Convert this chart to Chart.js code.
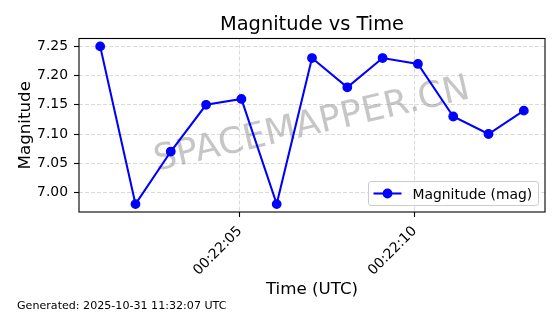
<!DOCTYPE html>
<html><head><meta charset="utf-8">
<script src="https://cdn.jsdelivr.net/npm/chart.js@4.4.1/dist/chart.umd.min.js"></script>
<style>html,body{margin:0;padding:0;background:#fff}canvas{display:block}</style>
</head><body>
<canvas id="c" width="560" height="314"></canvas>
<script>
// ---- data ----
const timeLabels = ['00:22:01.00','00:22:02.01','00:22:03.02','00:22:04.03','00:22:05.04','00:22:06.05','00:22:07.06','00:22:08.07','00:22:09.08','00:22:10.09','00:22:11.10','00:22:12.11','00:22:13.12'];
const magnitudes = [7.25, 6.98, 7.07, 7.15, 7.16, 6.98, 7.23, 7.18, 7.23, 7.22, 7.13, 7.10, 7.14];
const yTickValues = [7.00, 7.05, 7.10, 7.15, 7.20, 7.25];
const xTickLabels = ['00:22:05', '00:22:10'];
const chartTitle = 'Magnitude vs Time';
const xTitle = 'Time (UTC)';
const yTitle = 'Magnitude';
const seriesName = 'Magnitude (mag)';
const footerText = 'Generated: 2025-10-31 11:32:07 UTC';
const watermarkText = 'SPACEMAPPER.CN';

// ---- helpers ----
function toSec(s){ const p = s.split(':'); return (+p[0])*3600 + (+p[1])*60 + parseFloat(p[2]); }
function fmt(v){ const t = Math.round(v); const h = Math.floor(t/3600), m = Math.floor((t%3600)/60), s = t%60;
  return [h,m,s].map(n => String(n).padStart(2,'0')).join(':'); }
const xs = timeLabels.map(toSec);
const points = xs.map((x,i) => ({x: x, y: magnitudes[i]}));
const xTickVals = xTickLabels.map(toSec);
const xmin = Math.min(...xs), xmax = Math.max(...xs), xm = (xmax - xmin) * 0.05;
const ymin = Math.min(...magnitudes), ymax = Math.max(...magnitudes), ym = (ymax - ymin) * 0.05;

const FONT = '"DejaVu Sans", sans-serif';
const BLUE = '#0000ff';

const deco = {
  id: 'deco',
  beforeDatasetsDraw(chart){
    const ctx = chart.ctx, a = chart.chartArea;
    ctx.save();
    ctx.translate((a.left + a.right)/2, (a.top + a.bottom)/2);
    ctx.rotate(-13 * Math.PI / 180);
    ctx.font = '36px ' + FONT;
    ctx.fillStyle = 'rgba(128,128,128,0.45)';
    ctx.textAlign = 'center';
    ctx.textBaseline = 'middle';
    ctx.fillText(watermarkText, 0, 0);
    ctx.restore();
  },
  afterDraw(chart){
    const ctx = chart.ctx, a = chart.chartArea;
    ctx.save();
    // frame
    ctx.strokeStyle = '#000'; ctx.lineWidth = 1.1;
    ctx.strokeRect(a.left, a.top, a.right - a.left, a.bottom - a.top);
    // title
    ctx.fillStyle = '#000';
    ctx.textAlign = 'center'; ctx.textBaseline = 'alphabetic';
    ctx.font = '19.4px ' + FONT;
    ctx.fillText(chartTitle, (a.left + a.right)/2, 29.5);
    ctx.font = '16.7px ' + FONT;
    ctx.fillText(xTitle, (a.left + a.right)/2, 294);
    ctx.save();
    ctx.translate(29.5, (a.top + a.bottom)/2);
    ctx.rotate(-Math.PI/2);
    ctx.fillText(yTitle, 0, 0);
    ctx.restore();
    // footer
    ctx.textAlign = 'left';
    ctx.font = '11.1px ' + FONT;
    ctx.fillText(footerText, 17, 309);
    // legend
    const lx = 368.5, ly = 181.5, lw = 170, lh = 24, r = 2.5;
    ctx.beginPath();
    ctx.moveTo(lx + r, ly); ctx.lineTo(lx + lw - r, ly); ctx.arcTo(lx + lw, ly, lx + lw, ly + r, r);
    ctx.lineTo(lx + lw, ly + lh - r); ctx.arcTo(lx + lw, ly + lh, lx + lw - r, ly + lh, r);
    ctx.lineTo(lx + r, ly + lh); ctx.arcTo(lx, ly + lh, lx, ly + lh - r, r);
    ctx.lineTo(lx, ly + r); ctx.arcTo(lx, ly, lx + r, ly, r); ctx.closePath();
    ctx.fillStyle = 'rgba(255,255,255,0.8)'; ctx.fill();
    ctx.strokeStyle = '#cccccc'; ctx.lineWidth = 1; ctx.stroke();
    const ds = chart.data.datasets[0];
    ctx.strokeStyle = ds.borderColor; ctx.lineWidth = ds.borderWidth;
    ctx.beginPath(); ctx.moveTo(373.5, 193.5); ctx.lineTo(401.5, 193.5); ctx.stroke();
    ctx.beginPath(); ctx.arc(387.5, 193.5, ds.pointRadius, 0, Math.PI*2);
    ctx.fillStyle = ds.pointBackgroundColor; ctx.fill();
    ctx.lineWidth = ds.pointBorderWidth; ctx.strokeStyle = ds.pointBorderColor; ctx.stroke();
    ctx.fillStyle = '#000'; ctx.font = '13.9px ' + FONT; ctx.textAlign = 'left';
    ctx.fillText(ds.label, 412.5, 198.5);
    ctx.restore();
  }
};

new Chart(document.getElementById('c'), {
  type: 'line',
  data: { datasets: [{
    label: seriesName,
    data: points,
    borderColor: BLUE, backgroundColor: BLUE,
    borderWidth: 2.08,
    pointRadius: 4.2, pointBorderWidth: 1.4,
    pointBackgroundColor: BLUE, pointBorderColor: BLUE,
    pointHoverRadius: 4.2,
    tension: 0, fill: false
  }]},
  options: {
    responsive: false, animation: false, devicePixelRatio: 1,
    layout: { padding: { top: 38.5, right: 15, left: 0, bottom: 0 } },
    plugins: { legend: { display: false }, tooltip: { enabled: false }, title: { display: false } },
    scales: {
      x: {
        type: 'linear', bounds: 'data',
        min: xmin - xm, max: xmax + xm,
        afterBuildTicks: s => { s.ticks = xTickVals.map(v => ({value: v})); },
        afterFit: s => { s.height = 314 - 212; },
        ticks: { autoSkip: false, minRotation: 45, maxRotation: 45, color: '#000',
          font: { family: FONT, size: 13.9 }, padding: 6,
          callback: v => fmt(v) },
        grid: { color: 'rgba(176,176,176,0.6)', lineWidth: 0.8, tickLength: 5, tickColor: '#000', tickWidth: 1.1, tickBorderDash: [] },
        border: { display: false, dash: [4, 2] }
      },
      y: {
        type: 'linear', bounds: 'data',
        min: ymin - ym, max: ymax + ym,
        afterBuildTicks: s => { s.ticks = yTickValues.map(v => ({value: v})); },
        afterFit: s => { s.width = 79; },
        ticks: { color: '#000', font: { family: FONT, size: 13.9 }, padding: 6,
          callback: v => Number(v).toFixed(2) },
        grid: { color: 'rgba(176,176,176,0.6)', lineWidth: 0.8, tickLength: 5, tickColor: '#000', tickWidth: 1.1, tickBorderDash: [] },
        border: { display: false, dash: [4, 2] }
      }
    }
  },
  plugins: [deco]
});
</script>
</body></html>
